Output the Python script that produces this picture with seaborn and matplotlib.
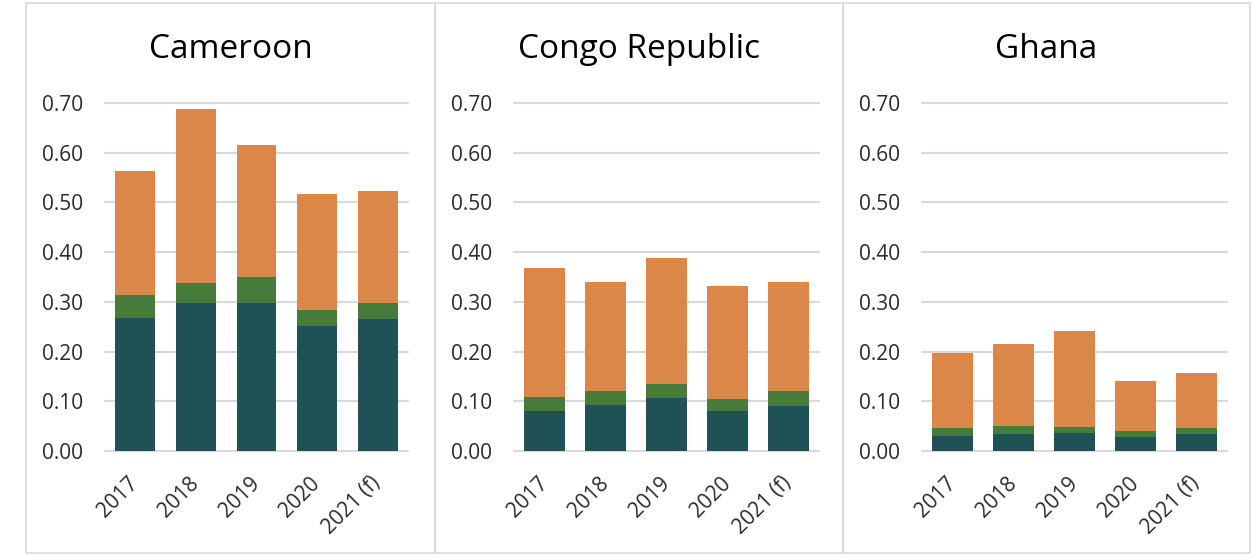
import matplotlib
matplotlib.use("Agg")
import matplotlib.pyplot as plt
from matplotlib.patches import Rectangle
import numpy as np
import pandas as pd
import seaborn as sns

years = ["2017", "2018", "2019", "2020", "2021 (f)"]
countries = ["Cameroon", "Congo Republic", "Ghana"]

# Stacked components per country (bottom -> top)
cameroon_base = [0.268, 0.298, 0.298, 0.252, 0.266]
cameroon_mid = [0.045, 0.040, 0.052, 0.031, 0.032]
cameroon_top = [0.251, 0.349, 0.266, 0.234, 0.224]

congo_base = [0.081, 0.093, 0.106, 0.081, 0.090]
congo_mid = [0.027, 0.027, 0.029, 0.024, 0.030]
congo_top = [0.260, 0.220, 0.253, 0.227, 0.220]

ghana_base = [0.031, 0.034, 0.037, 0.029, 0.034]
ghana_mid = [0.015, 0.017, 0.011, 0.012, 0.012]
ghana_top = [0.151, 0.165, 0.193, 0.099, 0.111]

series = {
    "Cameroon": (cameroon_base, cameroon_mid, cameroon_top),
    "Congo Republic": (congo_base, congo_mid, congo_top),
    "Ghana": (ghana_base, ghana_mid, ghana_top),
}

c_base = "#1E5257"
c_mid = "#467B3C"
c_top = "#DB874A"
grid_c = "#D9D9D9"
text_c = "#2B2B2B"

sns.set_theme(style="white")
plt.rcParams["font.family"] = ["Open Sans", "DejaVu Sans"]

W, H = 1255, 556
fig = plt.figure(figsize=(W / 100, H / 100), dpi=100)
fig.patch.set_facecolor("white")

# panel frames (pixels): left, right
panels = [(26, 435), (435, 843), (843, 1250)]
# plot areas (pixels): left, right
areas = [(105, 408), (514, 819), (922, 1227)]
y_top, y_bot = 103, 451
frame_top, frame_bot = 3, 553

for (pl, pr), (al, ar), name in zip(panels, areas, countries):
    fig.add_artist(Rectangle((pl / W, 1 - frame_bot / H), (pr - pl) / W,
                             (frame_bot - frame_top) / H,
                             transform=fig.transFigure, fill=False,
                             edgecolor=grid_c, linewidth=1.2))
    fig.text((pl + pr) / 2 / W, 1 - 49 / H, name, ha="center", va="center",
             fontsize=24, color="black")

    ax = fig.add_axes([al / W, 1 - y_bot / H, (ar - al) / W, (y_bot - y_top) / H])
    base, mid, top = series[name]
    df = pd.DataFrame({"year": years, "base": base, "mid": mid, "top": top})
    df["cum_mid"] = df["base"] + df["mid"]
    df["cum_top"] = df["cum_mid"] + df["top"]

    for col, colr in [("cum_top", c_top), ("cum_mid", c_mid), ("base", c_base)]:
        sns.barplot(data=df, x="year", y=col, color=colr, width=0.66,
                    saturation=1, ax=ax, zorder=3, edgecolor="none")

    ax.set_ylim(0, 0.70)
    ax.set_xlim(-0.5, 4.5)
    ax.set_yticks(np.arange(0, 0.71, 0.1))
    ax.set_yticklabels([f"{v:.2f}" for v in np.arange(0, 0.71, 0.1)])
    ax.yaxis.grid(True, color=grid_c, linewidth=1.5, zorder=0)
    ax.set_axisbelow(True)
    for ln in ax.get_ygridlines():
        ln.set_clip_on(False)
    for s in ax.spines.values():
        s.set_visible(False)
    ax.set_xlabel("")
    ax.set_ylabel("")
    ax.tick_params(axis="y", length=0, pad=15.5, labelsize=15, labelcolor=text_c)
    ax.tick_params(axis="x", length=0, pad=21, labelsize=15, labelcolor=text_c)
    plt.setp(ax.get_xticklabels(), rotation=45, ha="right", va="center",
             rotation_mode="anchor")
    ax.set_facecolor("none")

fig.savefig("out.png", dpi=100, facecolor="white")
